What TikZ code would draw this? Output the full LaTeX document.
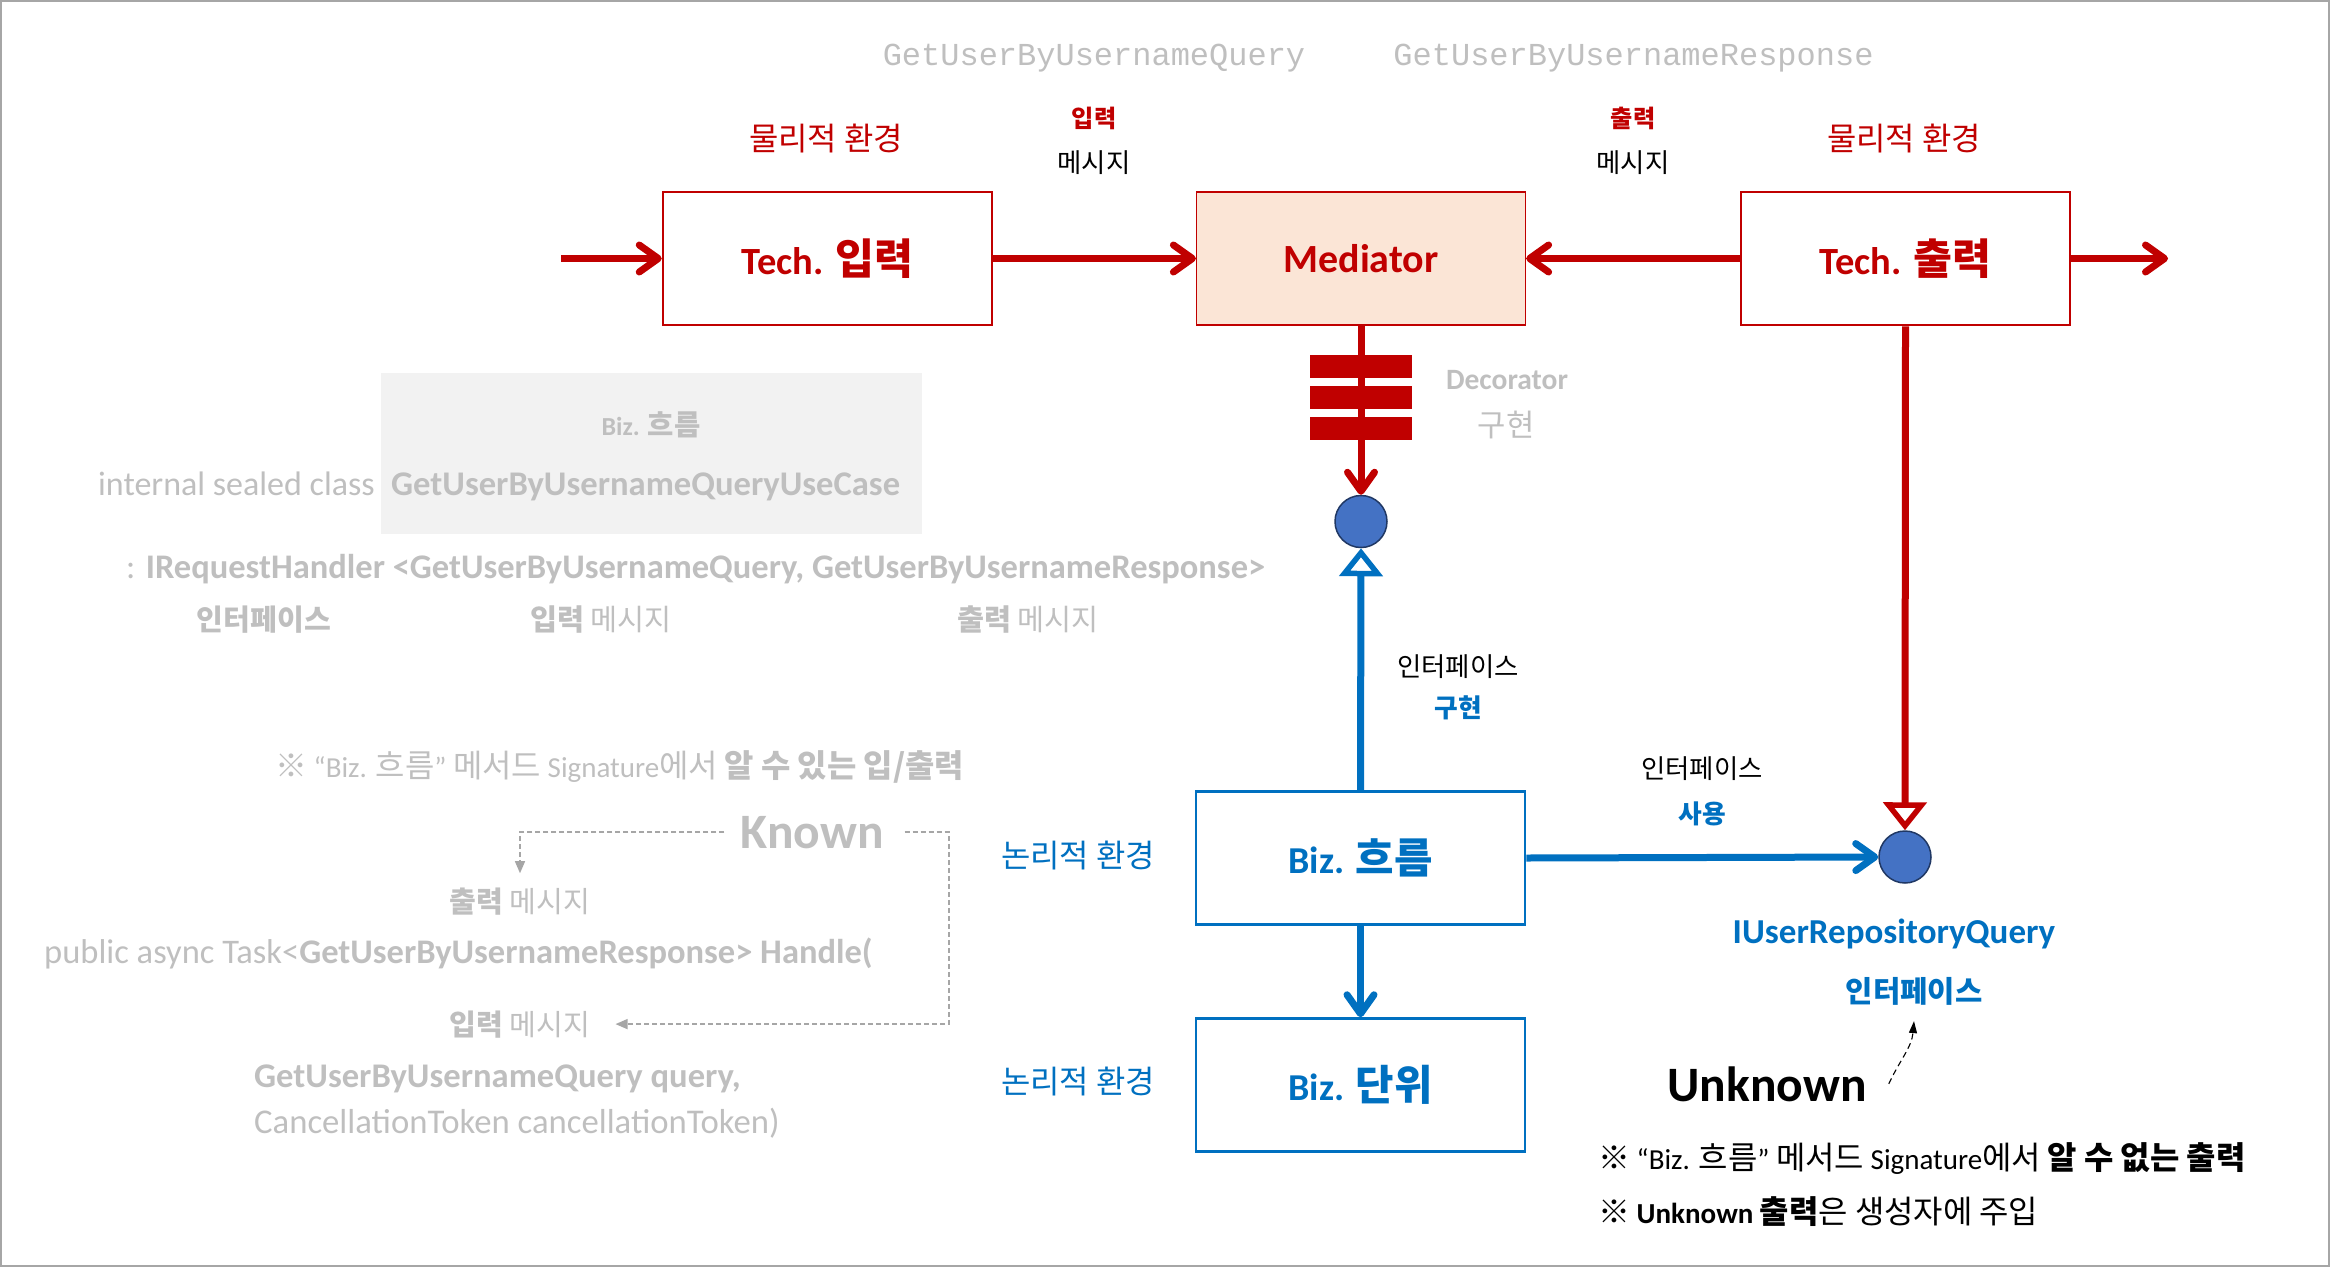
\documentclass[tikz,border=0pt]{standalone}
\usepackage{fontspec}
\setmainfont{Carlito}
\newfontfamily\kr{Noto Sans CJK KR}[Scale=1.1]
\newfontfamily\mono{Liberation Mono}
\usetikzlibrary{arrows.meta}
\definecolor{dred}{HTML}{C00000}
\definecolor{dblue}{HTML}{0070C0}
\definecolor{cfill}{HTML}{4472C4}
\definecolor{cline}{HTML}{203864}
\definecolor{lgray}{HTML}{BFBFBF}
\definecolor{medfill}{HTML}{FBE5D6}
\definecolor{boxgray}{HTML}{F2F2F2}
\definecolor{framegray}{HTML}{A6A6A6}
\newcommand\K[1]{{\kr #1}}
\newcommand\fsz[1]{\fontsize{#1}{#1}\selectfont}
\begin{document}
\begin{tikzpicture}[x=1pt,y=-1pt,
  lbl/.style={anchor=base,inner sep=0pt},
  lblw/.style={anchor=base west,inner sep=0pt},
  lble/.style={anchor=base east,inner sep=0pt},
  boxbase/.style={minimum width=329pt,minimum height=133pt,inner sep=0pt},
  redbox/.style={boxbase,draw=dred,line width=2.5pt,text=dred,font=\fsz{38.5}\bfseries},
  bluebox/.style={boxbase,draw=dblue,line width=2.5pt,text=dblue,font=\fsz{38}\bfseries},
  chev/.style={-{Straight Barb[length=19pt,width=27pt,round]}},
  redarr/.style={draw=dred,line width=7pt,chev},
  bluearr/.style={draw=dblue,line width=7pt,chev},
  hollowtip/.style={line width=7pt,-{Triangle[length=28pt,width=43pt,fill=white,line width=5.5pt]}},
  ifacecirc/.style={circle,fill=cfill,draw=cline,line width=1.5pt,minimum size=52pt,inner sep=0pt},
  decoblk/.style={fill=dred,minimum width=102pt,minimum height=23pt,inner sep=0pt},
  kdash/.style={draw=framegray,line width=1.3pt,dash pattern=on 5pt off 3pt,-{Triangle[length=12pt,width=10pt]}},
  udash/.style={draw=black,line width=1.1pt,dash pattern=on 6pt off 4pt,-{Triangle[length=12pt,width=8pt]}}
]
\useasboundingbox (0,0) rectangle (2330,1267);
\draw[framegray,line width=2pt] (1,1) rectangle (2329,1266);

% ---- top mono labels
\node[lbl,text=lgray,font=\mono\fsz{32}] (mq) at (1094,65) {GetUserByUsernameQuery};
\node[lbl,text=lgray,font=\mono\fsz{32}] (mr) at (1633.5,65) {GetUserByUsernameResponse};

\node[lbl,text=dred,font=\kr\fsz{29}] (p1) at (826,150) {물리적 환경};
\node[lbl,text=dred,font=\kr\fsz{29}] (p2) at (1904,150) {물리적 환경};
\node[lbl,text=dred,font=\kr\fsz{22}\bfseries] (in1) at (1094,127) {입력};
\node[lbl,text=black,font=\kr\fsz{24}] (ms1) at (1094,172) {메시지};
\node[lbl,text=dred,font=\kr\fsz{22}\bfseries] (ou1) at (1633,127) {출력};
\node[lbl,text=black,font=\kr\fsz{24}] (ms2) at (1633,172) {메시지};

% ---- boxes
\node[redbox] (techin) at (827.5,258.5) {Tech. \K{입력}};
\node[redbox,fill=medfill,line width=1.2pt,font=\fsz{40}\bfseries] (med) at (1361,258.5) {Mediator};
\node[redbox] (techout) at (1905.5,258.5) {Tech. \K{출력}};
\node[bluebox] (bizflow) at (1360.5,858) {Biz. \K{흐름}};
\node[bluebox] (bizunit) at (1360.5,1085) {Biz. \K{단위}};

\node[ifacecirc] (c1) at (1361,521.5) {};
\node[ifacecirc] (c2) at (1905,857) {};

\coordinate (inL) at (561,258.5);
\coordinate (outR) at (2168,258.5);

% ---- red arrows
\draw[redarr] (inL) -- (techin.west);
\draw[redarr] (techin.east) -- (med.west);
\draw[redarr] (techout.west) -- (med.east);
\draw[redarr] (techout.east) -- (outR);
\draw[redarr] (med.south) -- (c1.north);
\draw[draw=dred,hollowtip] (techout.south) -- (c2.north);

% decorator blocks
\node[decoblk] (d1) at (1361,366.5) {};
\node[decoblk] (d2) at (1361,397.5) {};
\node[decoblk] (d3) at (1361,428.5) {};
\node[lbl,text=lgray,font=\fsz{29.5}\bfseries] (deco) at (1507,389) {Decorator};
\node[lbl,text=lgray,font=\kr\fsz{28}] (decoimpl) at (1506,436) {구현};

% ---- blue arrows
\draw[draw=dblue,hollowtip] (bizflow.north) -- (c1.south);
\draw[bluearr] (bizflow.east) -- (c2.west);
\draw[bluearr] (bizflow.south) -- (bizunit.north);

\node[lbl,text=black,font=\kr\fsz{24}] (if1) at (1458,676) {인터페이스};
\node[lbl,text=dblue,font=\kr\fsz{23.4}\bfseries] (impl1) at (1458,717) {구현};
\node[lbl,text=black,font=\kr\fsz{24}] (if2) at (1702,778) {인터페이스};
\node[lbl,text=dblue,font=\kr\fsz{23.4}\bfseries] (use1) at (1702,823) {사용};
\node[lbl,text=dblue,font=\fsz{35}\bfseries] (iurq) at (1894,943) {IUserRepositoryQuery};
\node[lbl,text=dblue,font=\kr\fsz{27}\bfseries] (ifb) at (1914,1002) {인터페이스};
\node[lbl,text=dblue,font=\kr\fsz{29}] (log1) at (1078,867) {논리적 환경};
\node[lbl,text=dblue,font=\kr\fsz{29}] (log2) at (1078,1093) {논리적 환경};

% ---- Unknown
\node[lbl,text=black,font=\fsz{49.5}\bfseries] (unk) at (1767,1101) {Unknown};
\draw[udash] ([xshift=22pt]unk.east) to[out=65,in=-95] ([yshift=-16pt]ifb.south);
\node[lblw,text=black,font=\fsz{29}] (note1) at (1598,1169) {\K{※} “Biz. \K{흐름}” \K{메서드} Signature\K{에서} \textbf{\K{알 수 없는 출력}}};
\node[lblw,text=black,font=\fsz{29}] (note2) at (1598,1223) {\K{※} \textbf{Unknown \K{출력}}\K{은 생성자에 주입}};

% ---- left gray code area
\node[fill=boxgray,minimum width=541pt,minimum height=161pt,inner sep=0pt] (gbox) at (651.5,453.5) {};
\node[lbl,text=lgray,font=\fsz{26}\bfseries] (gbiz) at (651,435) {Biz. \K{흐름}};
\node[lble,text=lgray,font=\fsz{34}] (isc) at (375,495) {internal sealed class};
\node[lblw,text=lgray,font=\fsz{34.6}\bfseries] (ucname) at (391,495) {GetUserByUsernameQueryUseCase};
\node[lblw,text=lgray,font=\fsz{34.5}] (irh) at (126,578) {: \textbf{IRequestHandler <GetUserByUsernameQuery, GetUserByUsernameResponse>}};
\node[lbl,text=lgray,font=\kr\fsz{26.5}\bfseries] (gif) at (264,630) {인터페이스};
\node[lbl,text=lgray,font=\kr\fsz{26.7}] (gin) at (601,630) {\textbf{입력} 메시지};
\node[lbl,text=lgray,font=\kr\fsz{26.7}] (gout) at (1028,630) {\textbf{출력} 메시지};

\node[lblw,text=lgray,font=\fsz{29}] (note0) at (275,777) {\K{※} “Biz. \K{흐름}” \K{메서드} Signature\K{에서} \textbf{\K{알 수 있는 입/출력}}};
\node[lbl,text=lgray,font=\fsz{49.5}\bfseries] (known) at (812,848) {Known};
\node[lbl,text=lgray,font=\kr\fsz{26.5}] (om) at (520,912) {\textbf{출력} 메시지};
\node[lblw,text=lgray,font=\fsz{34.5}] (handle) at (44,963) {public async Task<\textbf{GetUserByUsernameResponse> Handle(}};
\node[lbl,text=lgray,font=\kr\fsz{26.5}] (im) at (520,1035) {\textbf{입력} 메시지};
\node[lblw,text=lgray,font=\fsz{34.6}\bfseries] (qarg) at (254,1087) {GetUserByUsernameQuery query,};
\node[lblw,text=lgray,font=\fsz{34.7}] (ctarg) at (254,1133) {CancellationToken cancellationToken)};

\coordinate (kc) at (949,1025);
\draw[kdash] ([xshift=-16pt]known.west) -| ([yshift=14pt]om.north);
\draw[kdash] ([xshift=21pt]known.east) -| (kc |- im.east) -- ([xshift=25pt]im.east);
\end{tikzpicture}
\end{document}
